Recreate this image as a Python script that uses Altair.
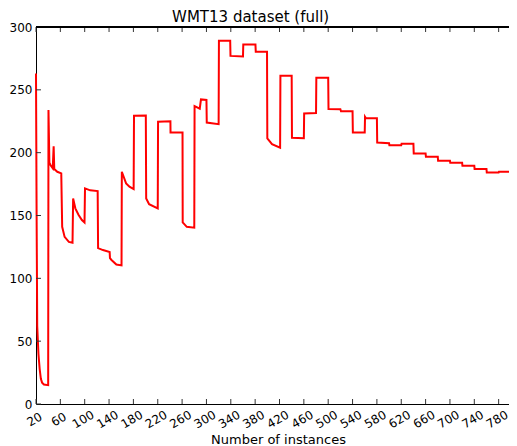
import altair as alt
import pandas as pd

# Data
x_vals = [20, 21, 22, 24, 26, 28, 30, 33, 40,
          40.5, 42, 44, 47.5, 49, 50, 55, 61.5,
          63, 67, 74, 80,
          81, 84.6, 90, 95.4, 99.7,
          100.5, 109, 121.3,
          122, 130, 141, 141.5, 144, 152, 160.5,
          161, 168, 173.5, 180.4,
          181, 200.4,
          201, 205.8, 220,
          220.5, 240.8,
          241, 260.7,
          261, 267.7, 280,
          280.5, 289, 291, 300,
          300.5, 320,
          320.5, 339,
          339.5, 360,
          360.5, 380.5,
          381, 399.5,
          400, 407.7, 421,
          421.5, 440,
          440.5, 460,
          460.5, 480,
          480.5, 500,
          500.5, 520, 521, 540,
          540.5, 560,
          560.5, 562, 580,
          580.5, 600, 600.5, 620, 620.5, 640,
          640.5, 660, 660.5, 680, 680.5, 700,
          700.5, 720, 720.5, 740, 740.5, 760,
          760.5, 780, 780.5, 797]
y_vals = [263, 150, 62, 40, 28, 20, 17, 15.5, 15,
          234, 192, 190, 187.6, 205, 187, 184.8, 183.5,
          141, 133, 129, 128.3,
          163.6, 155.7, 150.4, 146.4, 144.5,
          171.6, 170, 169.4,
          124, 122.5, 121, 116, 114.6, 111, 110.3,
          184.8, 175.6, 172.9, 171,
          229.4, 229.5,
          163.6, 159, 155.7,
          224.6, 225,
          216, 216,
          144.5, 141, 140.3,
          237, 235, 242.4, 242,
          224, 222.7,
          289, 289,
          277, 276.5,
          286, 286,
          280.3, 280.3,
          211.4, 206.8, 204,
          261.2, 261.2,
          211.9, 211.5,
          231.2, 231.5,
          259.6, 259.6,
          234.7, 234.5, 233, 233,
          216, 216,
          228.5, 227.3, 227.3,
          208, 207.5, 206, 206, 207, 207,
          199.4, 199.4, 196.8, 196.8, 193.6, 193.6,
          192, 192, 189.6, 189.6, 187, 187,
          184.3, 184.3, 184.8, 184.8]

x_ticks = list(range(20, 781, 40))
y_ticks = [0, 50, 100, 150, 200, 250, 300]

W, H = 473, 377
FONT = "DejaVu Sans"

df = pd.DataFrame({"x": x_vals, "y": y_vals, "i": range(len(x_vals))})
xt = pd.DataFrame({"t": x_ticks})
yt = pd.DataFrame({"t": y_ticks})

xscale = alt.Scale(domain=[20, 797], nice=False, zero=False)
yscale = alt.Scale(domain=[0, 300], nice=False)

xaxis = alt.Axis(values=x_ticks, labelAngle=-30, labelAlign="center",
                 labelBaseline="middle", labelPadding=15, labelOffset=-2,
                 ticks=False, grid=False, domainColor="black", labelColor="black",
                 labelFont=FONT, labelFontSize=12, title="Number of instances",
                 titleFont=FONT, titleFontSize=13, titleFontWeight="normal",
                 titleColor="black", titleY=39, titleX=242, titleBaseline="alphabetic",
                 labelOverlap=False, labelFlush=False)
yaxis = alt.Axis(values=y_ticks, ticks=False, grid=False, labelPadding=4,
                 domainColor="black", labelColor="black", labelFont=FONT,
                 labelFontSize=12, title=None, labelOverlap=False,
                 labelFlush=False)

line = alt.Chart(df).mark_line(color="#ff0000", strokeWidth=2).encode(
    x=alt.X("x:Q", scale=xscale, axis=xaxis),
    y=alt.Y("y:Q", scale=yscale, axis=yaxis),
    order="i:Q",
)

tick_color = "#333333"
xt_bottom = alt.Chart(xt).mark_rule(color=tick_color, strokeWidth=1).encode(
    x=alt.X("t:Q", scale=xscale, axis=xaxis), y=alt.value(H - 5), y2=alt.value(H))
xt_top = alt.Chart(xt).mark_rule(color=tick_color, strokeWidth=1).encode(
    x=alt.X("t:Q", scale=xscale, axis=xaxis), y=alt.value(0), y2=alt.value(5))
yt_left = alt.Chart(yt).mark_rule(color=tick_color, strokeWidth=1).encode(
    y=alt.Y("t:Q", scale=yscale, axis=yaxis), x=alt.value(0), x2=alt.value(5))
top_spine = alt.Chart(xt).mark_rule(color="black", strokeWidth=1).encode(
    x=alt.value(0), x2=alt.value(W), y=alt.value(0))

chart = alt.layer(line, xt_bottom, xt_top, yt_left, top_spine).properties(
    width=W, height=H,
    title=alt.Title("WMT13 dataset (full)", font=FONT, fontSize=15,
                    fontWeight="normal", color="black", offset=-4,
                    anchor="start", dx=163),
    autosize=alt.AutoSizeParams(type="none"),
    padding={"left": 28, "top": 19, "right": 0, "bottom": 42},
).configure_view(stroke=None)

chart.save("out.html", embed_options={"renderer": "svg", "actions": False})
